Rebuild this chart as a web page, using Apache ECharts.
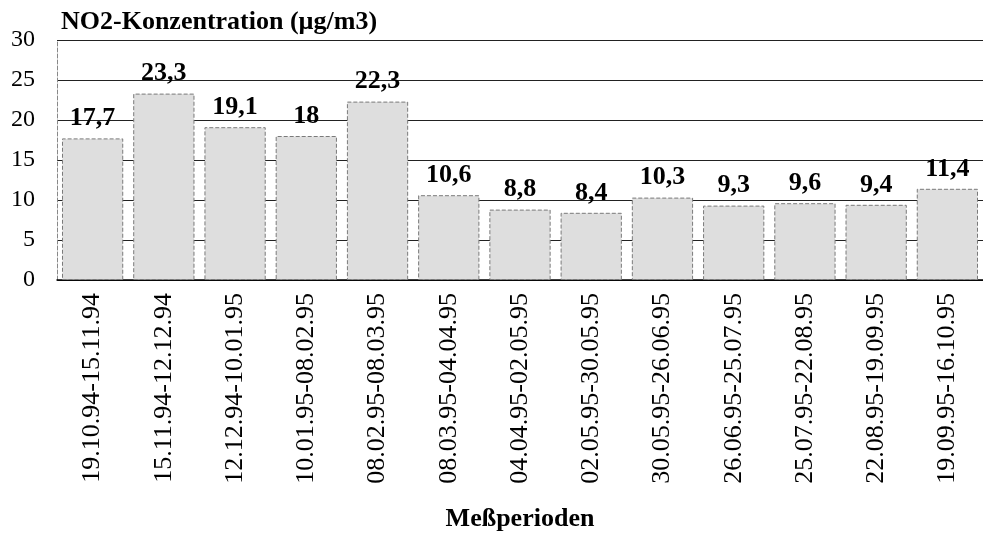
<!DOCTYPE html>
<html>
<head>
<meta charset="utf-8">
<script src="https://cdn.jsdelivr.net/npm/echarts@6/dist/echarts.min.js"></script>
<style>
  html, body { margin: 0; padding: 0; background: #fff; }
  #chart { width: 983px; height: 533px; }
</style>
</head>
<body>
<div id="chart"></div>
<script>
// Measurement periods and NO2 concentration per period (µg/m3)
const periods = [
  '19.10.94-15.11.94', '15.11.94-12.12.94', '12.12.94-10.01.95', '10.01.95-08.02.95',
  '08.02.95-08.03.95', '08.03.95-04.04.95', '04.04.95-02.05.95', '02.05.95-30.05.95',
  '30.05.95-26.06.95', '26.06.95-25.07.95', '25.07.95-22.08.95', '22.08.95-19.09.95',
  '19.09.95-16.10.95'
];
const no2Values = [17.7, 23.3, 19.1, 18, 22.3, 10.6, 8.8, 8.4, 10.3, 9.3, 9.6, 9.4, 11.4];
const yTicks = { min: 0, max: 30, interval: 5 };

const serif = '"Liberation Serif", "Times New Roman", serif';
const chart = echarts.init(document.getElementById('chart'), null, { renderer: 'canvas' });

chart.setOption({
  animation: false,
  backgroundColor: '#ffffff',
  title: {
    text: 'NO2-Konzentration (µg/m3)',
    left: 56,
    top: 4,
    textStyle: { fontFamily: serif, fontSize: 26, fontWeight: 'bold', color: '#000' }
  },
  grid: { left: 57, right: 0, top: 40, bottom: 253, containLabel: false },
  xAxis: {
    type: 'category',
    data: periods,
    boundaryGap: true,
    name: 'Meßperioden',
    nameLocation: 'middle',
    nameGap: 226,
    nameTextStyle: { fontFamily: serif, fontSize: 26, fontWeight: 'bold', color: '#000' },
    axisLine: { show: true, lineStyle: { color: '#000', width: 1.5 } },
    axisTick: { show: false },
    axisLabel: {
      rotate: 90,
      interval: 0,
      margin: 13,
      fontFamily: serif,
      fontSize: 26,
      color: '#000'
    },
    splitLine: { show: false }
  },
  yAxis: {
    type: 'value',
    min: yTicks.min,
    max: yTicks.max,
    interval: yTicks.interval,
    axisLine: { show: true, lineStyle: { color: '#888', type: 'dashed', width: 1 } },
    axisTick: { show: false },
    axisLabel: { margin: 22, fontFamily: serif, fontSize: 24, color: '#000' },
    splitLine: { show: true, lineStyle: { color: '#222', width: 1.2 } }
  },
  series: [{
    type: 'bar',
    data: no2Values,
    barCategoryGap: '14%',
    itemStyle: {
      color: '#dedede',
      borderColor: '#7a7a7a',
      borderWidth: 1,
      borderType: 'dashed'
    },
    label: {
      show: true,
      position: 'top',
      distance: 7,
      fontFamily: serif,
      fontSize: 26,
      fontWeight: 'bold',
      color: '#000',
      formatter: p => String(p.value).replace('.', ',')
    }
  }]
});
</script>
</body>
</html>
